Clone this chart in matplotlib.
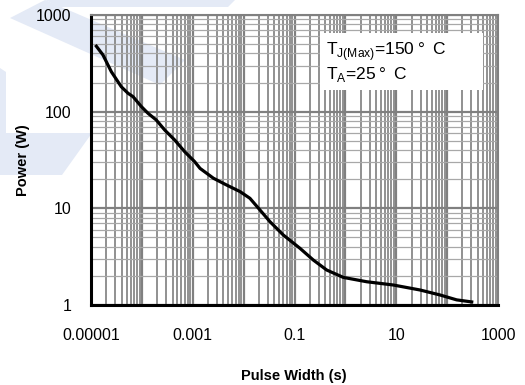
"""Maximum single pulse power vs pulse width."""

import matplotlib.pyplot as plt
from matplotlib.patches import Polygon, Rectangle
from matplotlib.ticker import LogLocator, NullFormatter

plt.rcParams["font.family"] = ["Liberation Sans", "DejaVu Sans"]
plt.rcParams["mathtext.fontset"] = "custom"
plt.rcParams["mathtext.rm"] = "Liberation Sans"

# pulse width (s) and peak power (W)
pulse_width = [1.22e-5, 1.72e-5, 2.51e-5, 3.94e-5, 5.34e-5, 6.7e-5, 9.75e-5,
               1.32e-4, 1.92e-4, 2.81e-4, 4.42e-4, 6.95e-4, 1.09e-3, 1.39e-3,
               2.54e-3, 4.65e-3, 8.49e-3, 1.33e-2, 2.1e-2, 3.3e-2, 6.02e-2,
               0.128, 0.234, 0.43, 0.91, 2.63, 8.75, 29.3, 72.4, 154, 327]
power = [490, 386, 259, 181, 155, 143, 113, 96.2, 82.0, 64.6, 50.9, 38.5,
         30.4, 25.9, 20.5, 17.4, 14.9, 12.7, 9.6, 7.27, 5.30, 3.86, 2.92,
         2.30, 1.93, 1.74, 1.61, 1.43, 1.27, 1.13, 1.07]

x_ticks = [1e-5, 1e-3, 1e-1, 10, 1000]
x_tick_labels = ["0.00001", "0.001", "0.1", "10", "1000"]
y_ticks = [1, 10, 100, 1000]
y_tick_labels = ["1", "10", "100", "1000"]

W, H = 525, 385
fig = plt.figure(figsize=(W / 100, H / 100), dpi=100)
fig.patch.set_facecolor("white")


def px(points):
    return [(x / W, 1 - y / H) for x, y in points]


# faint logo shapes in the background
wm = "#E4EAF6"
for shape in [
    [(10, 18), (45, 0), (185, 60), (160, 85)],
    [(45, 0), (235, 0), (228, 7), (60, 7)],
    [(0, 133), (92, 133), (62, 175), (0, 175)],
    [(0, 68), (6, 72), (6, 133), (0, 133)],
]:
    fig.patches.append(Polygon(px(shape), closed=True, transform=fig.transFigure,
                               facecolor=wm, edgecolor="none", zorder=-1))

ax = fig.add_axes([91 / W, 1 - 305 / H, 407 / W, 290 / H])
ax.set_facecolor("none")
ax.set_xscale("log")
ax.set_yscale("log")
ax.set_xlim(1e-5, 1000)
ax.set_ylim(1, 1000)

ax.xaxis.set_major_locator(LogLocator(base=10, numticks=20))
ax.xaxis.set_minor_locator(LogLocator(base=10, subs=range(2, 10), numticks=100))
ax.yaxis.set_major_locator(LogLocator(base=10, numticks=20))
ax.yaxis.set_minor_locator(LogLocator(base=10, subs=range(2, 10), numticks=100))
ax.xaxis.set_minor_formatter(NullFormatter())
ax.yaxis.set_minor_formatter(NullFormatter())

ax.grid(which="major", axis="both", color="#808080", linewidth=1.6, zorder=0)
ax.grid(which="minor", axis="x", color="#888888", linewidth=1.3, zorder=0)
ax.grid(which="minor", axis="y", color="#a8a8a8", linewidth=0.9, zorder=0)
ax.set_axisbelow(True)

# labelled ticks sit on every other decade along x
ax.xaxis.set_major_formatter(NullFormatter())
for xv, lab in zip(x_ticks, x_tick_labels):
    ax.text(xv, -0.105, lab, transform=ax.get_xaxis_transform(),
            ha="center", va="center", fontsize=11.5)
ax.set_yticks(y_ticks)
ax.set_yticklabels(y_tick_labels, fontsize=11.5)
ax.tick_params(which="both", length=0)
ax.tick_params(axis="y", pad=14)

for side in ["top", "right"]:
    ax.spines[side].set_color("#808080")
    ax.spines[side].set_linewidth(1.5)
for side in ["left", "bottom"]:
    ax.spines[side].set_color("black")
    ax.spines[side].set_linewidth(2.2)

ax.plot(pulse_width, power, color="black", linewidth=2.3, zorder=3,
        solid_capstyle="butt", solid_joinstyle="round")

ax.add_patch(Rectangle((0.563, 0.741), 0.4, 0.197, transform=ax.transAxes,
                       facecolor="white", edgecolor="none", zorder=2))
ax.text(0.578, 0.875, "T$_{\\mathregular{J(Max)}}$=150\u2009°\u2002C",
        transform=ax.transAxes, ha="left", va="center", fontsize=12.5, zorder=4)
ax.text(0.578, 0.795, "T$_{\\mathregular{A}}$=25\u2009°\u2002C",
        transform=ax.transAxes, ha="left", va="center", fontsize=12.5, zorder=4)

fig.text(294 / W, 1 - 376 / H, "Pulse Width (s)", ha="center", va="center",
         fontsize=10.5, fontweight="bold")
fig.text(23 / W, 1 - 160 / H, "Power (W)", ha="center", va="center",
         rotation=90, fontsize=10.5, fontweight="bold")

fig.savefig("out.png", dpi=100, facecolor="white")
